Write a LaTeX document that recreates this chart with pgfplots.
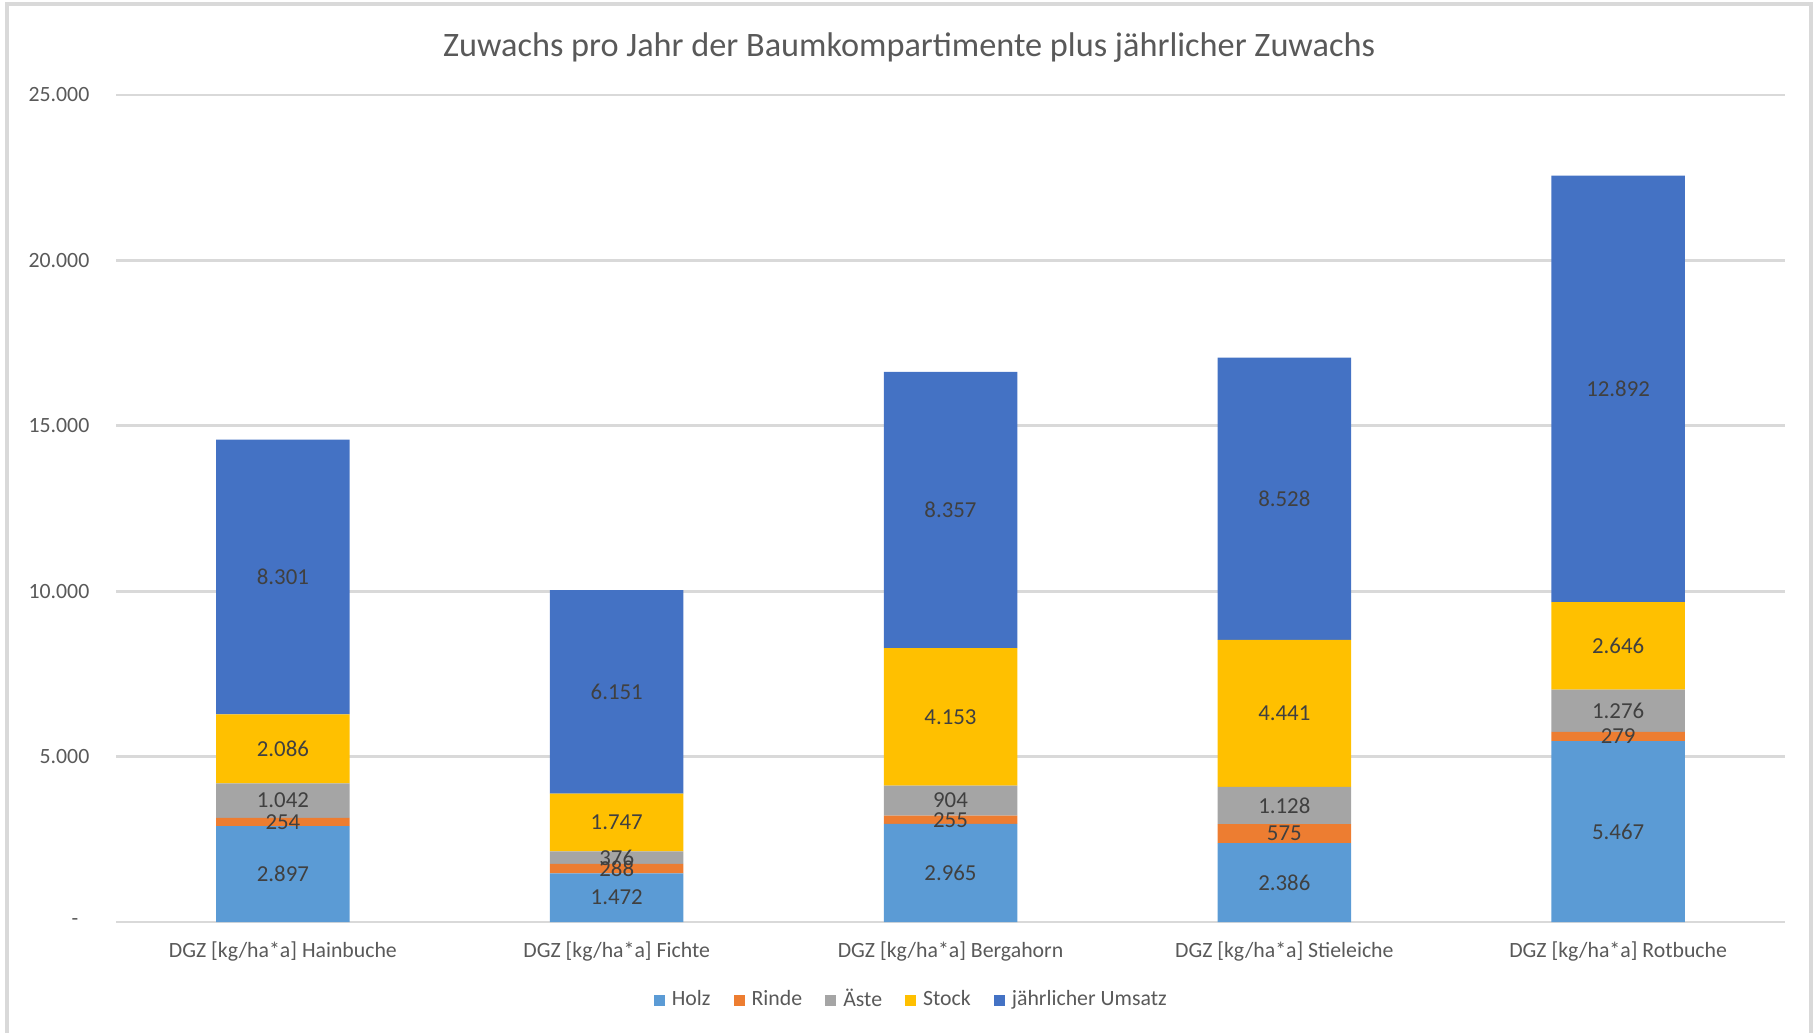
\documentclass[border=0pt]{standalone}
\usepackage{fontspec}
\setmainfont{Carlito}
\usepackage{pgfplots}
\usepackage{pgfplotstable}
\pgfplotsset{compat=1.18}
\definecolor{cHolz}{HTML}{5B9BD5}
\definecolor{cRinde}{HTML}{ED7D31}
\definecolor{cAeste}{HTML}{A5A5A5}
\definecolor{cStock}{HTML}{FFC000}
\definecolor{cUmsatz}{HTML}{4472C4}
\definecolor{txt}{HTML}{595959}
\definecolor{lbl}{HTML}{404040}
\definecolor{gridc}{HTML}{D9D9D9}

\pgfplotstableread{
x holz rinde aeste stock umsatz
0 2897 254 1042 2086 8301
1 1472 288 376 1747 6151
2 2965 255 904 4153 8357
3 2386 575 1128 4441 8528
4 5467 279 1276 2646 12892
}\datatable

\pgfplotsset{
  geom/.style={
    at={(1.16cm,1.10cm)}, anchor=south west,
    scale only axis, width=16.69cm, height=8.27cm,
    xmin=-0.5, xmax=4.5, ymin=0, ymax=25000,
  },
  lab/.style={
    only marks, mark=*, mark size=0pt, mark options={draw=none, fill=none},
    point meta=explicit,
    nodes near coords={\pgfmathprintnumber[fixed, precision=0, 1000 sep={.}, assume math mode=true]{\pgfplotspointmeta}},
    every node near coord/.append style={anchor=center, text=lbl, font=\fontsize{6.5}{7}\selectfont, inner sep=0pt},
  },
}

\begin{document}
\begin{tikzpicture}[x=1cm,y=1cm]
\useasboundingbox (0,0) rectangle (18.14,10.32);
\draw[gridc, line width=0.9pt] (0.07,-0.2) -- (0.07,10.28) -- (18.11,10.28) -- (18.11,-0.2);
\node[text=txt, font=\fontsize{9.75}{11}\selectfont] at (9.09,9.84) {Zuwachs pro Jahr der Baumkompartimente plus jährlicher Zuwachs};

\begin{axis}[geom,
  ybar stacked, bar width=0.4,
  scaled y ticks=false,
  axis line style={draw=none}, tick style={draw=none},
  ymajorgrids, grid style={gridc, line width=0.8pt},
  xtick={0,1,2,3,4},
  xticklabels={{DGZ [kg/ha*a] Hainbuche},{DGZ [kg/ha*a] Fichte},{DGZ [kg/ha*a] Bergahorn},{DGZ [kg/ha*a] Stieleiche},{DGZ [kg/ha*a] Rotbuche}},
  ytick={0,5000,10000,15000,20000,25000},
  yticklabels={{-\kern0.11cm},5.000,10.000,15.000,20.000,25.000},
  xticklabel style={anchor=center, yshift=-0.29cm, text=txt, font=\fontsize{6.2}{7}\selectfont},
  yticklabel style={anchor=east, inner sep=0pt, xshift=-0.26cm, text=txt, font=\fontsize{6.2}{7}\selectfont},
  legend style={draw=none, fill=none, at={(0.478,-0.095)}, anchor=center, legend columns=-1,
    font=\fontsize{6.2}{7}\selectfont, text=txt, inner sep=0pt,
    /tikz/every even column/.append style={column sep=0.16cm}},
  legend image code/.code={\fill[#1, draw=none] (0cm,-0.055cm) rectangle (0.11cm,0.055cm);},
]
\addplot[fill=cHolz, draw=none] table[x=x, y=holz] {\datatable};
\addlegendentry{Holz}
\addplot[fill=cRinde, draw=none] table[x=x, y=rinde] {\datatable};
\addlegendentry{Rinde}
\addplot[fill=cAeste, draw=none] table[x=x, y=aeste] {\datatable};
\addlegendentry{Äste}
\addplot[fill=cStock, draw=none] table[x=x, y=stock] {\datatable};
\addlegendentry{Stock}
\addplot[fill=cUmsatz, draw=none] table[x=x, y=umsatz] {\datatable};
\addlegendentry{jährlicher Umsatz}
\end{axis}

\begin{axis}[geom, hide axis, clip=false]
\addplot[lab] table[x=x, y expr={0.5*\thisrow{holz}}, meta=holz] {\datatable};
\addplot[lab] table[x=x, y expr={\thisrow{holz}+0.5*\thisrow{rinde}}, meta=rinde] {\datatable};
\addplot[lab] table[x=x, y expr={\thisrow{holz}+\thisrow{rinde}+0.5*\thisrow{aeste}}, meta=aeste] {\datatable};
\addplot[lab] table[x=x, y expr={\thisrow{holz}+\thisrow{rinde}+\thisrow{aeste}+0.5*\thisrow{stock}}, meta=stock] {\datatable};
\addplot[lab] table[x=x, y expr={\thisrow{holz}+\thisrow{rinde}+\thisrow{aeste}+\thisrow{stock}+0.5*\thisrow{umsatz}}, meta=umsatz] {\datatable};
\end{axis}
\end{tikzpicture}
\end{document}
